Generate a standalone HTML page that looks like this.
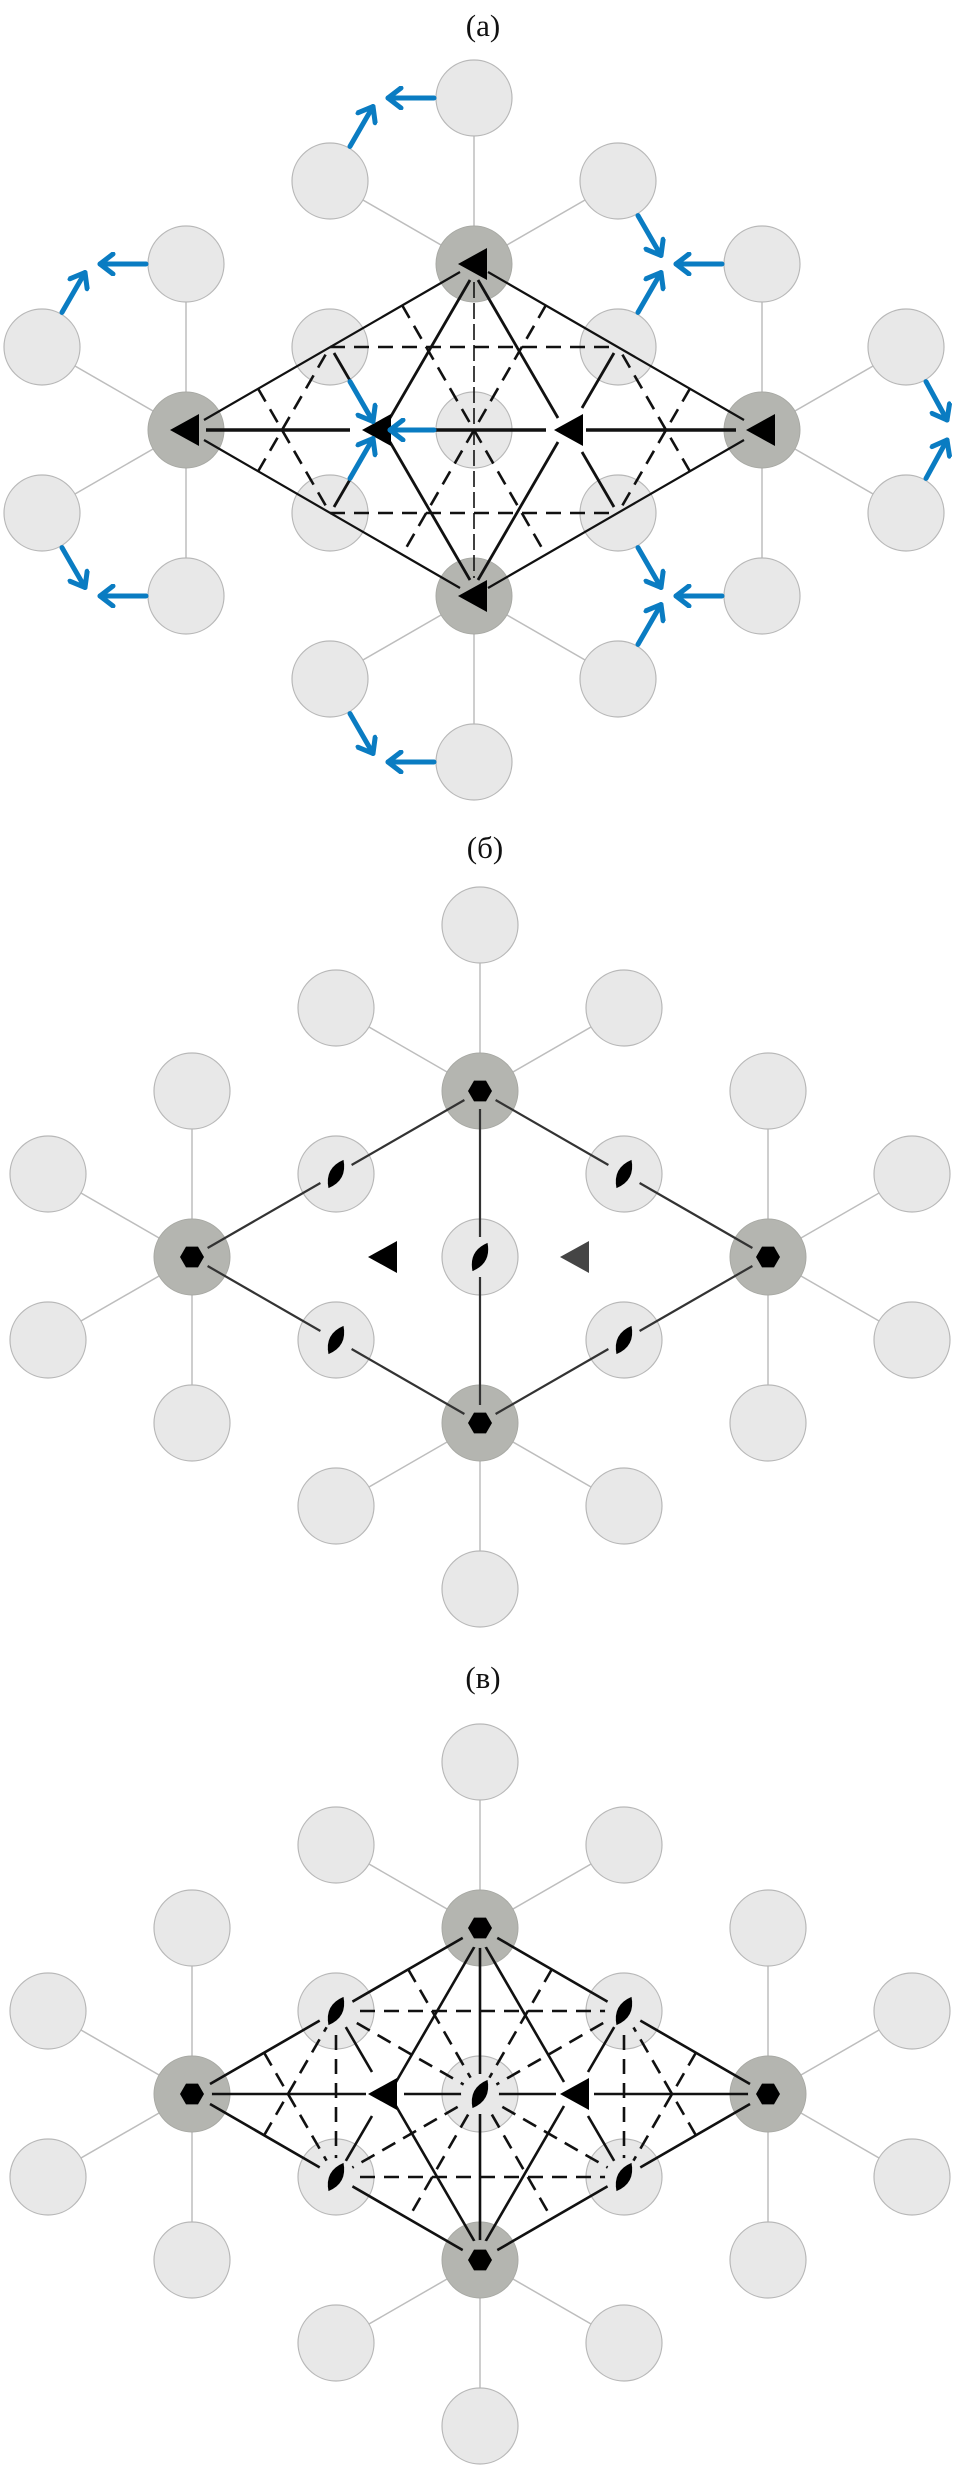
<!DOCTYPE html>
<html><head><meta charset="utf-8"><style>
html,body{margin:0;padding:0;background:#fff;}
svg{display:block;}
</style></head><body>
<svg width="963" height="2467" viewBox="0 0 963 2467" xmlns="http://www.w3.org/2000/svg">
<defs>
<marker id="ah" viewBox="0 0 24 24" refX="16" refY="12" markerWidth="24" markerHeight="24" markerUnits="userSpaceOnUse" orient="auto">
<path d="M3,2 L16,12 L3,22" fill="none" stroke="#0a7cc2" stroke-width="5" stroke-linecap="round" stroke-linejoin="round"/>
</marker>
<g id="lat">
<g stroke="#bdbdbd" stroke-width="1.5">
<line x1="0" y1="-166" x2="0" y2="-332"/><line x1="0" y1="-166" x2="-144" y2="-249"/><line x1="0" y1="-166" x2="144" y2="-249"/>
<line x1="0" y1="166" x2="0" y2="332"/><line x1="0" y1="166" x2="-144" y2="249"/><line x1="0" y1="166" x2="144" y2="249"/>
<line x1="-288" y1="0" x2="-288" y2="-166"/><line x1="-288" y1="0" x2="-288" y2="166"/><line x1="-288" y1="0" x2="-432" y2="-83"/><line x1="-288" y1="0" x2="-432" y2="83"/>
<line x1="288" y1="0" x2="288" y2="-166"/><line x1="288" y1="0" x2="288" y2="166"/><line x1="288" y1="0" x2="432" y2="-83"/><line x1="288" y1="0" x2="432" y2="83"/>
</g>
<g fill="#e8e8e8" stroke="#b8b8b8" stroke-width="1.2">
<circle cx="0" cy="-332" r="38"/><circle cx="-144" cy="-249" r="38"/><circle cx="144" cy="-249" r="38"/>
<circle cx="0" cy="332" r="38"/><circle cx="-144" cy="249" r="38"/><circle cx="144" cy="249" r="38"/>
<circle cx="-288" cy="-166" r="38"/><circle cx="-288" cy="166" r="38"/><circle cx="-432" cy="-83" r="38"/><circle cx="-432" cy="83" r="38"/>
<circle cx="288" cy="-166" r="38"/><circle cx="288" cy="166" r="38"/><circle cx="432" cy="-83" r="38"/><circle cx="432" cy="83" r="38"/>
<circle cx="0" cy="0" r="38"/>
<circle cx="-144" cy="-83" r="38"/><circle cx="144" cy="-83" r="38"/><circle cx="-144" cy="83" r="38"/><circle cx="144" cy="83" r="38"/>
</g>
<g fill="#b4b5b0" stroke="#a8a9a4" stroke-width="1">
<circle cx="0" cy="-166" r="38"/><circle cx="0" cy="166" r="38"/><circle cx="-288" cy="0" r="38"/><circle cx="288" cy="0" r="38"/>
</g>
</g>
<g id="dash60" fill="none" stroke="#111" stroke-width="2.6" stroke-dasharray="15 9">
<line x1="-72" y1="-125" x2="72" y2="125"/><line x1="72" y1="-125" x2="-72" y2="125"/>
<line x1="-216" y1="41.5" x2="-144" y2="-83"/><line x1="-216" y1="-41.5" x2="-144" y2="83"/>
<line x1="216" y1="41.5" x2="144" y2="-83"/><line x1="216" y1="-41.5" x2="144" y2="83"/>
<line x1="-144" y1="-83" x2="144" y2="-83"/><line x1="-144" y1="83" x2="144" y2="83"/>
</g>
<path id="tri" d="M-16,0 L13,-16 L13,16 Z"/>
<path id="lens" d="M0,-16 Q13,0 0,16 Q-13,0 0,-16 Z" transform="rotate(28)"/>
<path id="hex" d="M12,0 L6,-10.4 L-6,-10.4 L-12,0 L-6,10.4 L6,10.4 Z"/>
</defs>

<g font-family="Liberation Serif, serif" font-size="31" fill="#111" text-anchor="middle">
<text x="483" y="36">(a)</text>
<text x="485" y="858">(б)</text>
<text x="483" y="1688">(в)</text>
</g>

<!-- Panel a -->
<g transform="translate(474,430)">
<use href="#lat"/>
<g stroke="#111" fill="none">
<path d="M-270,-10 L-14,-158 M14,-158 L270,-10 M270,10 L14,158 M-14,158 L-270,10" stroke-width="2.2"/>
<use href="#dash60"/>
<line x1="0" y1="-148" x2="0" y2="148" stroke-width="1.6" stroke-dasharray="16 5"/>
<line x1="-4" y1="-150" x2="-84" y2="-12" stroke-width="2.8"/><line x1="-108" y1="22" x2="-140" y2="77" stroke-width="2.8"/>
<line x1="4" y1="-150" x2="84" y2="-12" stroke-width="2.8"/><line x1="108" y1="22" x2="140" y2="77" stroke-width="2.8"/>
<line x1="-4" y1="150" x2="-84" y2="12" stroke-width="2.8"/><line x1="-108" y1="-22" x2="-140" y2="-77" stroke-width="2.8"/>
<line x1="4" y1="150" x2="84" y2="12" stroke-width="2.8"/><line x1="108" y1="-22" x2="140" y2="-77" stroke-width="2.8"/>
<line x1="-268" y1="0" x2="-124" y2="0" stroke-width="3.4"/>
<line x1="-40" y1="0" x2="72" y2="0" stroke-width="3.4"/>
<line x1="112" y1="0" x2="262" y2="0" stroke-width="3.4"/>
</g>
<g fill="#000">
<use href="#tri" x="-96" y="0"/><use href="#tri" x="96" y="0"/>
<use href="#tri" x="-288" y="0"/><use href="#tri" x="288" y="0"/>
<use href="#tri" x="0" y="-166"/><use href="#tri" x="0" y="166"/>
</g>
<g stroke="#0a7cc2" stroke-width="5" stroke-linecap="round" marker-end="url(#ah)" fill="none">
<line x1="-40" y1="-332" x2="-86" y2="-332"/>
<line x1="-124" y1="-283.6" x2="-101" y2="-323.5"/>
<line x1="164" y1="-214.4" x2="187" y2="-174.5"/>
<line x1="248" y1="-166" x2="202" y2="-166"/>
<line x1="164" y1="-117.6" x2="187" y2="-157.5"/>
<line x1="-328" y1="-166" x2="-374" y2="-166"/>
<line x1="-412" y1="-117.6" x2="-389" y2="-157.5"/>
<line x1="-412" y1="117.6" x2="-389" y2="157.5"/>
<line x1="-328" y1="166" x2="-374" y2="166"/>
<line x1="-124" y1="-48.4" x2="-101" y2="-8.5"/>
<line x1="-124" y1="48.4" x2="-101" y2="8.5"/>
<line x1="-40" y1="0" x2="-84" y2="0"/>
<line x1="452" y1="-48.4" x2="473" y2="-10"/>
<line x1="452" y1="48.4" x2="473" y2="10"/>
<line x1="164" y1="117.6" x2="187" y2="157.5"/>
<line x1="248" y1="166" x2="202" y2="166"/>
<line x1="164" y1="214.4" x2="187" y2="174.5"/>
<line x1="-124" y1="283.6" x2="-101" y2="323.5"/>
<line x1="-40" y1="332" x2="-86" y2="332"/>
</g>
</g>

<!-- Panel b -->
<g transform="translate(480,1257)">
<use href="#lat"/>
<g stroke="#333" stroke-width="2.2" fill="none">
<line x1="-272.4" y1="-9" x2="-159.6" y2="-74"/>
<line x1="-128.4" y1="-92" x2="-15.6" y2="-157"/>
<line x1="15.6" y1="-157" x2="128.4" y2="-92"/>
<line x1="159.6" y1="-74" x2="272.4" y2="-9"/>
<line x1="272.4" y1="9" x2="159.6" y2="74"/>
<line x1="128.4" y1="92" x2="15.6" y2="157"/>
<line x1="-15.6" y1="157" x2="-128.4" y2="92"/>
<line x1="-159.6" y1="74" x2="-272.4" y2="9"/>
<line x1="0" y1="-148" x2="0" y2="-20"/><line x1="0" y1="20" x2="0" y2="148"/>
</g>
<g fill="#000">
<use href="#hex" x="0" y="-166"/><use href="#hex" x="0" y="166"/><use href="#hex" x="-288" y="0"/><use href="#hex" x="288" y="0"/>
<use href="#lens" transform="translate(0,0)"/>
<use href="#lens" transform="translate(-144,-83)"/><use href="#lens" transform="translate(144,-83)"/>
<use href="#lens" transform="translate(-144,83)"/><use href="#lens" transform="translate(144,83)"/>
<use href="#tri" x="-96" y="0"/>
</g>
<use href="#tri" x="96" y="0" fill="#454545"/>
</g>

<!-- Panel c -->
<g transform="translate(480,2094)">
<use href="#lat"/>
<g stroke="#111" fill="none">
<path d="M-270,-10 L-14,-158 M14,-158 L270,-10 M270,10 L14,158 M-14,158 L-270,10" stroke-width="2.6"/>
<use href="#dash60"/>
<g stroke-width="2.6" stroke-dasharray="15 9">
<line x1="-144" y1="-83" x2="-144" y2="83"/><line x1="144" y1="-83" x2="144" y2="83"/>
<line x1="-144" y1="-83" x2="144" y2="83"/><line x1="144" y1="-83" x2="-144" y2="83"/>
</g>
<g stroke-width="2.6">
<line x1="0" y1="-150" x2="0" y2="-20"/><line x1="0" y1="20" x2="0" y2="150"/>
<line x1="-270" y1="0" x2="-114" y2="0"/><line x1="-76" y1="0" x2="-18" y2="0"/>
<line x1="18" y1="0" x2="76" y2="0"/><line x1="114" y1="0" x2="270" y2="0"/>
<line x1="-4" y1="-150" x2="-84" y2="-12"/><line x1="-108" y1="22" x2="-136" y2="70"/>
<line x1="4" y1="-150" x2="84" y2="-12"/><line x1="108" y1="22" x2="136" y2="70"/>
<line x1="-4" y1="150" x2="-84" y2="12"/><line x1="-108" y1="-22" x2="-136" y2="-70"/>
<line x1="4" y1="150" x2="84" y2="12"/><line x1="108" y1="-22" x2="136" y2="-70"/>
</g>
</g>
<g fill="#e8e8e8">
<circle cx="0" cy="0" r="19"/>
<circle cx="-144" cy="-83" r="19"/><circle cx="144" cy="-83" r="19"/>
<circle cx="-144" cy="83" r="19"/><circle cx="144" cy="83" r="19"/>
</g>
<g fill="#b4b5b0">
<circle cx="0" cy="-166" r="20"/><circle cx="0" cy="166" r="20"/><circle cx="-288" cy="0" r="20"/><circle cx="288" cy="0" r="20"/>
</g>
<g fill="#000">
<use href="#hex" x="0" y="-166"/><use href="#hex" x="0" y="166"/><use href="#hex" x="-288" y="0"/><use href="#hex" x="288" y="0"/>
<use href="#lens" transform="translate(0,0)"/>
<use href="#lens" transform="translate(-144,-83)"/><use href="#lens" transform="translate(144,-83)"/>
<use href="#lens" transform="translate(-144,83)"/><use href="#lens" transform="translate(144,83)"/>
<use href="#tri" x="-96" y="0"/><use href="#tri" x="96" y="0"/>
</g>
</g>
</svg>
</body></html>
